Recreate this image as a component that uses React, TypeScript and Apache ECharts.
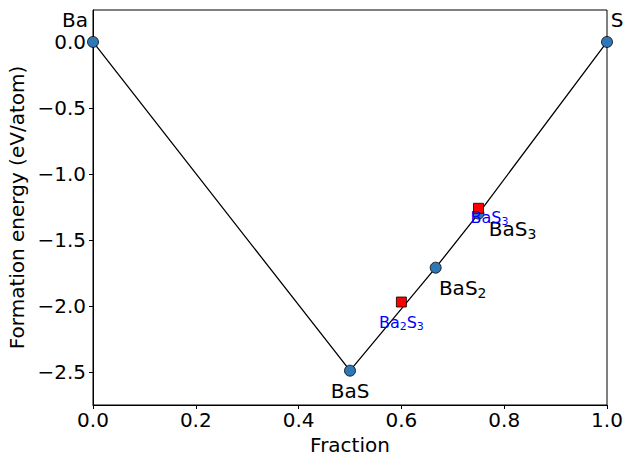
import React, { useEffect, useRef } from "react";
import * as echarts from "echarts";

const stableNames = ["Ba", "BaS", "BaS2", "BaS3", "S"];
const stableX = [0, 0.5, 0.6667, 0.75, 1];
const stableY = [0, -2.49, -1.71, -1.30, 0];
const unstableNames = ["Ba2S3", "BaS3"];
const unstableX = [0.6, 0.75];
const unstableY = [-1.97, -1.26];
const yTicks = [0, -0.5, -1, -1.5, -2, -2.5];

// label offsets (pixel) relative to the mark centre
const stableOffsets: [number, number][] = [[-18, -22], [0, 20], [27, 20], [34, 15], [10, -22]];
const unstableOffsets: [number, number][] = [[0, 20], [11, 9]];

function richName(n: string, key: string) {
  const parts = n.match(/\d+|[^\d]+/g) || [];
  return parts.map((p) => (/\d/.test(p) ? `{${key}|${p}}` : `{${key}n|${p}}`)).join("");
}

const minus = (v: number) => v.toFixed(1).replace("-", "\u2212");

export default function App() {
  const ref = useRef<HTMLDivElement>(null);
  useEffect(() => {
    const chart = echarts.init(ref.current!, null, { renderer: "svg" });
    const font = "DejaVu Sans";
    const stableData = stableNames.map((n, i) => ({
      value: [stableX[i], stableY[i]],
      name: n,
      label: {
        show: true,
        position: "inside" as const,
        offset: stableOffsets[i],
        formatter: richName(n, "s"),
      },
    }));
    const unstableData = unstableNames.map((n, i) => ({
      value: [unstableX[i], unstableY[i]],
      name: n,
      label: {
        show: true,
        position: "inside" as const,
        offset: unstableOffsets[i],
        formatter: richName(n, "b"),
      },
    }));
    chart.setOption({
      animation: false,
      backgroundColor: "#fff",
      grid: {
        left: 93, right: 18, top: 10, bottom: 47,
        outerBoundsMode: "none",
        containLabel: false,
        show: true, borderColor: "#000", borderWidth: 1, backgroundColor: "transparent",
      },
      xAxis: {
        type: "value",
        min: 0,
        max: 1,
        interval: 0.2,
        name: "Fraction",
        nameLocation: "middle",
        nameGap: 28,
        nameTextStyle: { fontFamily: font, fontSize: 20, lineHeight: 18, color: "#000" },
        axisLine: { onZero: false, lineStyle: { color: "#000", width: 1 } },
        axisTick: { length: 4, lineStyle: { color: "#000" } },
        axisLabel: { fontFamily: font, fontSize: 20, color: "#000", margin: 5, formatter: minus },
        splitLine: { show: false },
      },
      yAxis: {
        type: "value",
        min: -2.75,
        max: 0.242,
        name: "Formation energy (eV/atom)",
        nameLocation: "middle",
        nameGap: 62,
        nameTextStyle: { fontFamily: font, fontSize: 20, color: "#000" },
        axisLine: { show: true, onZero: false, lineStyle: { color: "#000", width: 1 } },
        axisTick: { show: true, length: 4, lineStyle: { color: "#000" }, customValues: yTicks },
        axisLabel: { fontFamily: font, fontSize: 20, color: "#000", margin: 7, customValues: yTicks, formatter: minus },
        splitLine: { show: false },
      },
      series: [
        {
          type: "line",
          data: stableX.map((x, i) => [x, stableY[i]]),
          symbol: "none",
          lineStyle: { color: "#000", width: 1.3 },
          z: 1,
        },
        {
          type: "scatter",
          data: stableData,
          symbol: "circle",
          symbolSize: 11,
          itemStyle: { color: "#2f78b5", borderColor: "#000", borderWidth: 0.8, opacity: 1 },
          label: {
            rich: {
              sn: { fontFamily: font, fontSize: 20, color: "#000" },
              s: { fontFamily: font, fontSize: 14, color: "#000", padding: [10, 0, 0, 0] },
            },
          },
          z: 2,
        },
        {
          type: "scatter",
          data: unstableData,
          symbol: "rect",
          symbolSize: 10,
          itemStyle: { color: "#ff0000", borderColor: "#000", borderWidth: 0.8, opacity: 1 },
          label: {
            rich: {
              bn: { fontFamily: font, fontSize: 16, color: "#0000ff" },
              b: { fontFamily: font, fontSize: 11, color: "#0000ff", padding: [8, 0, 0, 0] },
            },
          },
          z: 3,
        },
      ],
    });
    return () => chart.dispose();
  }, []);
  return <div ref={ref} style={{ width: 625, height: 452, position: "absolute", left: 0, top: 0 }} />;
}
